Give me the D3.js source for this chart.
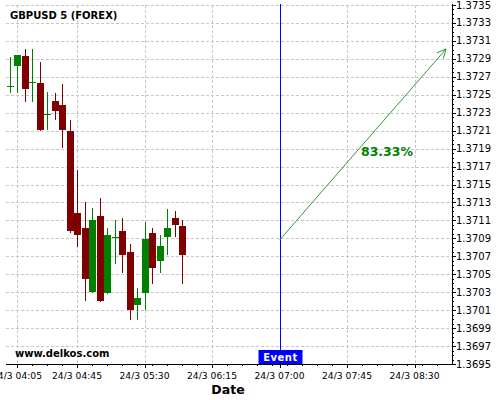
<!DOCTYPE html>
<html><head><meta charset="utf-8">
<script src="https://cdn.jsdelivr.net/npm/d3@7"></script>
<style>body{margin:0;background:#fff}svg{display:block;font-family:"DejaVu Sans",sans-serif}</style>
</head><body><svg id="c" width="500" height="400"></svg>
<script>
const title = "GBPUSD 5 (FOREX)";
const times = ["04:00","04:05","04:10","04:15","04:20","04:25","04:30","04:35","04:40","04:45","04:50","04:55","05:00","05:05","05:10","05:15","05:20","05:25","05:30","05:35","05:40","05:45","05:50","05:55"];
const open  = [1.37259,1.37282,1.37293,1.37263,1.37263,1.37228,1.37243,1.37239,1.37210,1.37118,1.37102,1.37030,1.37115,1.37029,1.37091,1.37098,1.37075,1.37016,1.37029,1.37096,1.37065,1.37092,1.37113,1.37104];
const high  = [1.37292,1.37294,1.37301,1.37301,1.37287,1.37253,1.37252,1.37262,1.37222,1.37166,1.37131,1.37124,1.37135,1.37101,1.37111,1.37113,1.37084,1.37035,1.37108,1.37101,1.37094,1.37123,1.37121,1.37111];
const low   = [1.37252,1.37252,1.37242,1.37242,1.37210,1.37211,1.37222,1.37191,1.37096,1.37080,1.37020,1.37029,1.37019,1.37028,1.37061,1.37051,1.36999,1.36999,1.37010,1.37039,1.37051,1.37071,1.37091,1.37039];
const close = [1.37260,1.37294,1.37256,1.37264,1.37211,1.37229,1.37232,1.37211,1.37098,1.37094,1.37045,1.37111,1.37020,1.37094,1.37092,1.37071,1.37010,1.37023,1.37089,1.37057,1.37082,1.37102,1.37105,1.37071];
const xTickLabels = ["04:05","04:45","05:30","06:15","07:00","07:45","08:30"];
const yTicks = [1.3695,1.3697,1.3699,1.3701,1.3703,1.3705,1.3707,1.3709,1.3711,1.3713,1.3715,1.3717,1.3719,1.3721,1.3723,1.3725,1.3727,1.3729,1.3731,1.3733,1.3735];
const eventTime = "07:00";
const arrowFrom = {time:"07:00", value:1.37088};
const arrowTo   = {time:"08:51", value:1.37301};
const arrowLabel = "83.33%";

const day = "24/3";
const T = s => { const [h,m] = s.split(":").map(Number); return new Date(2024,2,24,h,m); };

const svg = d3.select("#c");
const L=6, R=452, Tp=5, B=364;
const x = d3.scaleTime().domain([new Date(2024,2,24,3,57,40), T("08:55")]).range([L,R]);
const y = d3.scaleLinear().domain([1.3695,1.3735]).range([B,Tp]);

// grid
const grid = svg.append("g").attr("stroke","#c8c8c8").attr("stroke-dasharray","3,2").attr("shape-rendering","crispEdges");
yTicks.forEach(v=>grid.append("line").attr("x1",L).attr("x2",R).attr("y1",Math.round(y(v))+0.5).attr("y2",Math.round(y(v))+0.5));
xTickLabels.forEach(t=>grid.append("line").attr("y1",Tp).attr("y2",B).attr("x1",Math.round(x(T(t)))+0.5).attr("x2",Math.round(x(T(t)))+0.5));

// candles
const cw = 7;
const g = svg.append("g").attr("shape-rendering","crispEdges");
times.forEach((t,i)=>{
  const cx = Math.round(x(T(t)));
  const up = close[i] >= open[i];
  const col = up ? "#008000" : "#800000";
  g.append("line").attr("x1",cx+0.5).attr("x2",cx+0.5).attr("y1",y(high[i])).attr("y2",y(low[i])).attr("stroke",col);
  const top = y(Math.max(open[i],close[i])), bot = y(Math.min(open[i],close[i]));
  if (bot-top < 1.5) {
    g.append("line").attr("x1",cx-3).attr("x2",cx+4).attr("y1",Math.round(top)+0.5).attr("y2",Math.round(top)+0.5).attr("stroke",col);
  } else {
    g.append("rect").attr("x",cx-3).attr("width",cw).attr("y",top).attr("height",bot-top).attr("fill",col);
  }
});

// axes
const ax = svg.append("g").attr("stroke","#000").attr("shape-rendering","crispEdges");
ax.append("line").attr("x1",R+0.5).attr("x2",R+0.5).attr("y1",Tp-1).attr("y2",B+1);
ax.append("line").attr("x1",L).attr("x2",R+1).attr("y1",B+0.5).attr("y2",B+0.5);
// y minor ticks
d3.range(0,81).forEach(k=>{
  const v = 1.3695 + k*0.00005;
  const yy = Math.round(y(v))+0.5;
  ax.append("line").attr("x1",R).attr("x2",R+(k%4===0?4:2)).attr("y1",yy).attr("y2",yy);
});
// x ticks
d3.range(0,30).forEach(k=>{
  const tt = new Date(T("04:05").getTime()+k*10*60000);
  const xx = Math.round(x(tt))+0.5;
  if (xx<=R) ax.append("line").attr("x1",xx).attr("x2",xx).attr("y1",B).attr("y2",B+2);
});
xTickLabels.forEach(t=>{
  const xx = Math.round(x(T(t)))+0.5;
  ax.append("line").attr("x1",xx).attr("x2",xx).attr("y1",B).attr("y2",B+4);
});
svg.append("g").selectAll("text").data(yTicks).join("text")
  .attr("x",R+4).attr("y",d=>y(d)).attr("dy","0.35em").attr("font-size",10).attr("fill","#000")
  .text(d=>d.toFixed(4));
svg.append("g").selectAll("text").data(xTickLabels).join("text")
  .attr("x",d=>x(T(d))).attr("y",379).attr("text-anchor","middle").attr("font-size",9.2).attr("fill","#000")
  .text(d=>day+" "+d);
svg.append("text").attr("x",228).attr("y",394).attr("text-anchor","middle").attr("font-size",12.5).attr("font-weight","bold").text("Date");

// title and watermark
svg.append("text").attr("x",10).attr("y",19).attr("font-size",10).attr("font-weight","bold").text(title);
svg.append("text").attr("x",15).attr("y",357).attr("font-size",10).attr("font-weight","bold").text("www.delkos.com");

// event line
const ex = Math.round(x(T(eventTime)))+0.5;
svg.append("line").attr("x1",ex).attr("x2",ex).attr("y1",Tp-1).attr("y2",B).attr("stroke","#0000ff").attr("shape-rendering","crispEdges");
svg.append("rect").attr("x",ex-22).attr("y",350).attr("width",44).attr("height",14).attr("fill","#0000ff");
svg.append("text").attr("x",ex).attr("y",361).attr("text-anchor","middle").attr("font-size",10).attr("font-weight","bold").attr("fill","#fff").attr("letter-spacing","0.5").text("Event");

// arrow
const ax1=x(T(arrowFrom.time)), ay1=y(arrowFrom.value), ax2=x(T(arrowTo.time)), ay2=y(arrowTo.value);
const ac="#339933";
svg.append("line").attr("x1",ax1).attr("y1",ay1).attr("x2",ax2).attr("y2",ay2).attr("stroke",ac).attr("stroke-width",1);
const ang=Math.atan2(ay2-ay1,ax2-ax1), hl=10;
[0.45,-0.45].forEach(da=>{
  svg.append("line").attr("x1",ax2).attr("y1",ay2)
    .attr("x2",ax2-hl*Math.cos(ang+da)).attr("y2",ay2-hl*Math.sin(ang+da)).attr("stroke",ac);
});
svg.append("text").attr("x",387).attr("y",156).attr("text-anchor","middle").attr("font-size",12.5).attr("font-weight","bold").attr("fill","#008000").text(arrowLabel);
</script></body></html>
